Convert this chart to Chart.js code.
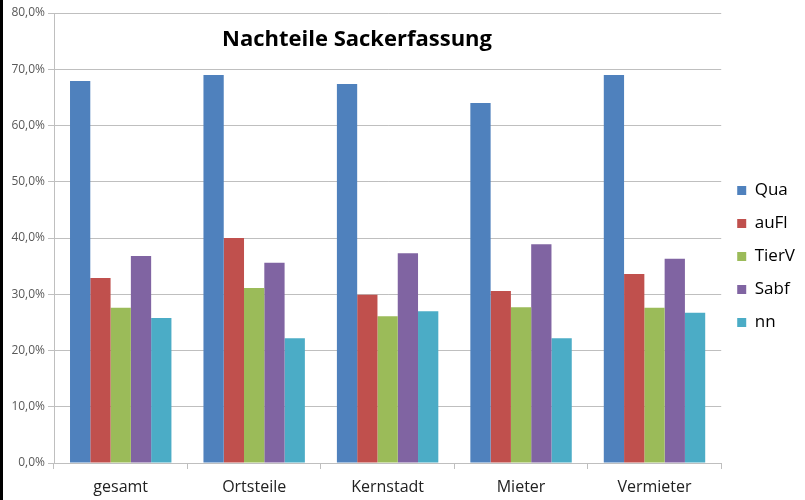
<!DOCTYPE html>
<html>
<head>
<meta charset="utf-8">
<script src="https://cdn.jsdelivr.net/npm/chart.js@4/dist/chart.umd.min.js"></script>
<style>
  html, body { margin: 0; padding: 0; background: #fff; }
  #wrap { position: relative; width: 805px; height: 500px; }
  #border { position: absolute; left: 0; top: 0; width: 3px; height: 500px; background: #000; }
</style>
</head>
<body>
<div id="wrap">
  <canvas id="c" width="805" height="500"></canvas>
  <div id="border"></div>
</div>
<script>
const categories = ["gesamt", "Ortsteile", "Kernstadt", "Mieter", "Vermieter"];
const seriesNames = ["Qua", "auFl", "TierV", "Sabf", "nn"];
const qua   = [67.9, 69.0, 67.4, 64.0, 69.0];
const auFl  = [32.9, 40.0, 29.9, 30.6, 33.6];
const tierV = [27.6, 31.1, 26.1, 27.7, 27.6];
const sabf  = [36.8, 35.6, 37.3, 38.9, 36.3];
const nn    = [25.8, 22.2, 27.0, 22.2, 26.7];
const yTicks = [0, 10, 20, 30, 40, 50, 60, 70, 80];
const titleText = "Nachteile Sackerfassung";

const colors = ["#4F81BD", "#C0504D", "#9BBB59", "#8064A2", "#4BACC6"];
const values = [qua, auFl, tierV, sabf, nn];

const titlePlugin = {
  id: 'innerTitle',
  afterDraw(chart) {
    const ctx = chart.ctx;
    ctx.save();
    ctx.font = 'bold 22px "Open Sans", sans-serif';
    ctx.fillStyle = '#000';
    ctx.textAlign = 'center';
    ctx.textBaseline = 'middle';
    ctx.fillText(titleText, 357, 40);
    ctx.restore();
  }
};

new Chart(document.getElementById('c'), {
  type: 'bar',
  data: {
    labels: categories,
    datasets: seriesNames.map((n, i) => ({
      label: n,
      data: values[i],
      backgroundColor: colors[i],
      borderWidth: 0,
      categoryPercentage: 0.76,
      barPercentage: 1.0
    }))
  },
  options: {
    responsive: false,
    animation: false,
    layout: { padding: { left: 3, top: 13, right: 0, bottom: 0 } },
    plugins: {
      legend: {
        position: 'right',
        labels: {
          boxWidth: 9, boxHeight: 9, padding: 16,
          color: '#000',
          font: { family: '"Open Sans", sans-serif', size: 17 }
        }
      },
      title: { display: false },
      tooltip: { enabled: false }
    },
    scales: {
      x: {
        grid: { display: true, drawOnChartArea: false, color: '#BFBFBF', tickLength: 6, offset: true },
        border: { color: '#BFBFBF' },
        ticks: { color: '#222', padding: 9, font: { family: '"Open Sans", sans-serif', size: 16 } },
        afterFit(s) { s.height = 37; }
      },
      y: {
        min: 0, max: 80,
        afterBuildTicks(s) { s.ticks = yTicks.map(v => ({ value: v })); },
        grid: { color: '#BFBFBF', tickLength: 6 },
        border: { color: '#BFBFBF' },
        ticks: {
          color: '#595959', padding: 3,
          font: { family: '"Open Sans", sans-serif', size: 12 },
          callback: v => v.toFixed(1).replace('.', ',') + '%'
        },
        afterFit(s) { s.width = 51; }
      }
    }
  },
  plugins: [titlePlugin]
});
</script>
</body>
</html>
